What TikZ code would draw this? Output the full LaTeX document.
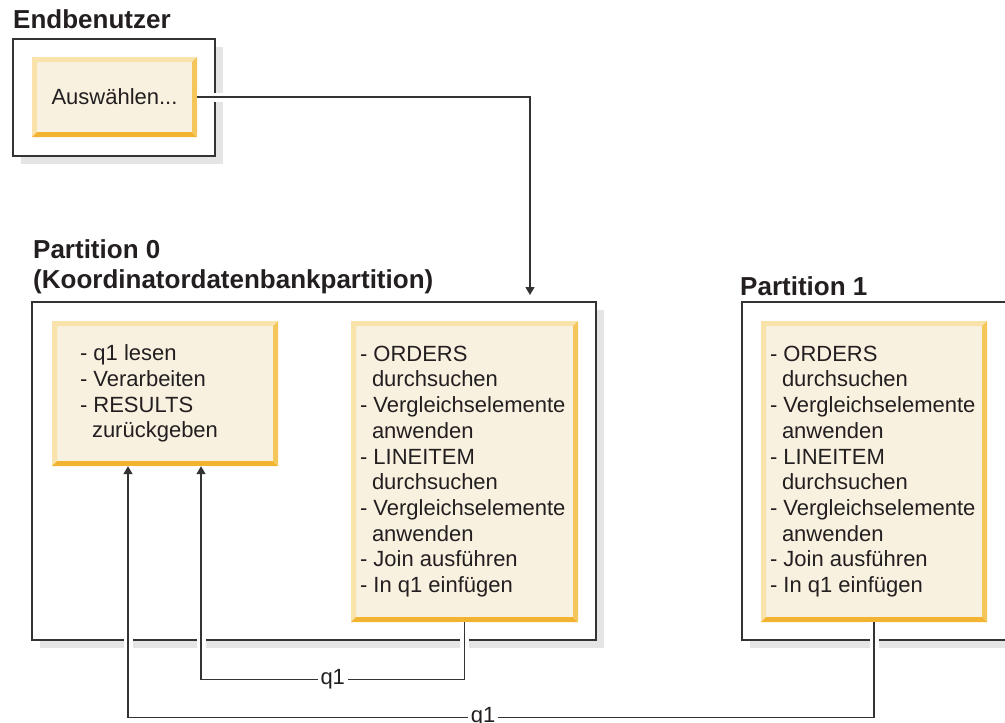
\documentclass[tikz,border=0pt]{standalone}
\usepackage{fontspec}
\setmainfont{Liberation Sans}
\usetikzlibrary{arrows.meta, calc, shadows}
\definecolor{boxfill}{HTML}{F8F1E0}
\definecolor{bevlight}{HTML}{F9E3AA}
\definecolor{bevright}{HTML}{F5C75B}
\definecolor{bevbottom}{HTML}{F2B330}
\definecolor{shadowgray}{HTML}{E5E5E5}
\definecolor{linegray}{HTML}{333333}
\definecolor{textgray}{HTML}{231F20}
\newcommand{\wrapin}{\hspace*{12pt}}
\newcommand{\scansteps}{- ORDERS\\\wrapin durchsuchen\\- Vergleichselemente\\\wrapin anwenden\\- LINEITEM\\\wrapin durchsuchen\\- Vergleichselemente\\\wrapin anwenden\\- Join ausführen\\- In q1 einfügen}

\begin{document}
\begin{tikzpicture}[x=1pt, y=-1pt,
  partbox/.style={draw=linegray, line width=1.5pt, fill=white, inner sep=0pt,
    general shadow={fill=shadowgray, shadow xshift=8pt, shadow yshift=-8pt}},
  bevelbox/.style={fill=boxfill, inner sep=0pt, path picture={
    \path (path picture bounding box.south west) coordinate (sw)
          (path picture bounding box.north west) coordinate (nw)
          (path picture bounding box.north east) coordinate (ne)
          (path picture bounding box.south east) coordinate (se);
    \fill[bevlight] (sw) -- (nw) -- (ne) -- ($(ne)+(-5pt,-5pt)$) -- ($(nw)+(5pt,-5pt)$) -- ($(sw)+(5pt,5pt)$) -- cycle;
    \fill[bevbottom] (sw) -- (se) -- ($(se)+(-5pt,5pt)$) -- ($(sw)+(5pt,5pt)$) -- cycle;
    \fill[bevright] (ne) -- (se) -- ($(se)+(-5pt,5pt)$) -- ($(ne)+(-5pt,-5pt)$) -- cycle;
  }},
  boxtitle/.style={font=\bfseries\fontsize{26}{30}\selectfont, text=textgray, inner sep=0pt},
  items/.style={font=\fontsize{22}{25.7}\selectfont, text=textgray, align=left, inner sep=0pt},
  link/.style={draw=linegray, line width=1.3pt, preaction={draw=white, line width=9pt, arrows=-}},
  arrowed/.style={-{Triangle[length=8pt, width=9pt]}},
  flowlabel/.style={font=\fontsize{22}{25.7}\selectfont, text=textgray, fill=white, inner xsep=3pt, inner ysep=1pt}]
  \useasboundingbox (0,0) rectangle (1005,723);

  % end user
  \node[partbox, minimum width=202pt, minimum height=117pt] (userframe) at (114,97.5) {};
  \node[boxtitle, anchor=base west] (usertitle) at (13,28) {Endbenutzer};
  \node[bevelbox, items, minimum width=165pt, minimum height=80pt] (sel) at (114.5,97) {Auswählen...};

  % partition 0
  \node[partbox, minimum width=564pt, minimum height=338pt] (p0frame) at (314,471) {};
  \node[boxtitle, anchor=north west, align=left] (p0title) at (33,239) {Partition 0\\(Koordinatordatenbankpartition)};
  \node[bevelbox, minimum width=226pt, minimum height=145pt] (coord) at (165,393.5) {};
  \node[items, anchor=west] (coordtext) at ([xshift=28pt]coord.west) {- q1 lesen\\- Verarbeiten\\- RESULTS\\\wrapin zurückgeben};
  \node[bevelbox, minimum width=227pt, minimum height=301pt] (scan0) at (464.5,471.5) {};
  \node[items, anchor=west] (scan0text) at ([xshift=9pt]scan0.west) {\scansteps};

  % partition 1
  \node[partbox, minimum width=270pt, minimum height=338pt] (p1frame) at (877,471) {};
  \node[boxtitle, anchor=base west] (p1title) at (740,295) {Partition 1};
  \node[bevelbox, minimum width=226pt, minimum height=301pt] (scan1) at (874,471.5) {};
  \node[items, anchor=west] (scan1text) at ([xshift=9pt]scan1.west) {\scansteps};

  % connectors
  \coordinate (drop) at (530,295);
  \draw[link, arrowed] (sel.east) -| (drop);
  \draw[link, arrowed] (scan0.south) -- ++(0,57) -| ([xshift=36pt]coord.south)
    node[flowlabel, pos=0.25] (q1inner) {q1};
  \draw[link, arrowed] (scan1.south) -- ++(0,95) -| ([xshift=-37pt]coord.south)
    node[flowlabel, pos=0.262] (q1outer) {q1};
\end{tikzpicture}
\end{document}
